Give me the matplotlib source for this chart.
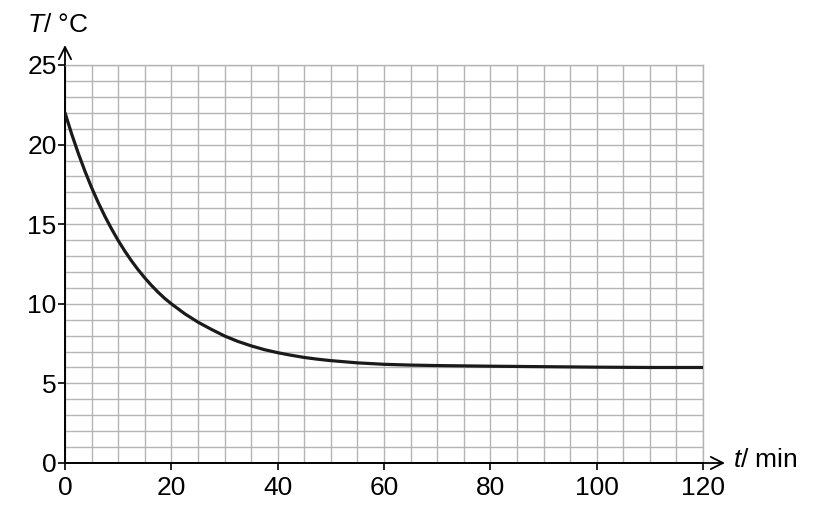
import numpy as np
import matplotlib.pyplot as plt

plt.rcParams["font.family"] = "Liberation Sans"
plt.rcParams["mathtext.fontset"] = "custom"
plt.rcParams["mathtext.it"] = "Liberation Sans:italic"
plt.rcParams["mathtext.rm"] = "Liberation Sans"

# readings
t_min = [0, 1.25, 2.5, 3.75, 5, 6.25, 7.5, 8.75, 10, 11.25, 12.5, 13.75, 15,
         16.25, 17.5, 18.75, 20, 22.5, 25, 27.5, 30, 32.5, 35, 37.5, 40, 42.5,
         45, 47.5, 50, 55, 60, 65, 70, 80, 90, 100, 110, 120]
temp_c = [22.0, 20.67, 19.45, 18.33, 17.3, 16.36, 15.5, 14.71, 13.98, 13.31,
          12.7, 12.14, 11.63, 11.16, 10.73, 10.34, 10.0, 9.38, 8.85, 8.4,
          7.98, 7.64, 7.36, 7.12, 6.93, 6.77, 6.63, 6.52, 6.43, 6.29, 6.2,
          6.15, 6.12, 6.08, 6.05, 6.02, 6.0, 6.0]
x_ticks = [0, 20, 40, 60, 80, 100, 120]
y_ticks = [0, 5, 10, 15, 20, 25]

fig = plt.figure(figsize=(8.19, 5.16), dpi=100)
ax = fig.add_axes([65 / 819, 53 / 516, 638 / 819, 398 / 516])

ax.plot(t_min, temp_c, color="#1a1a1a", lw=2.3, zorder=3,
        solid_joinstyle="round", solid_capstyle="round")

ax.set_xlim(0, 120)
ax.set_ylim(0, 25)
ax.set_xticks(x_ticks)
ax.set_yticks(y_ticks)
ax.set_xticks(np.arange(0, 121, 5), minor=True)
ax.set_yticks(np.arange(0, 26, 1), minor=True)
ax.grid(which="both", color="#b4b4b4", lw=1.0)
ax.tick_params(which="minor", length=0)
ax.tick_params(which="major", length=5, width=1.2, direction="out",
               labelsize=19, colors="black")
ax.tick_params(axis="x", pad=4.5)
ax.tick_params(axis="y", pad=1)
ax.set_axisbelow(True)

for s in ["top", "right"]:
    ax.spines[s].set_color("#b4b4b4")
    ax.spines[s].set_linewidth(1.0)
for s in ["left", "bottom"]:
    ax.spines[s].set_color("black")
    ax.spines[s].set_linewidth(1.4)

# axis arrows
arrow = dict(arrowstyle="->", lw=1.3, color="black", mutation_scale=22,
             shrinkA=0, shrinkB=0)
ax.annotate("", xy=(120 + 22 / 638 * 120, 0), xytext=(120, 0),
            arrowprops=arrow, annotation_clip=False)
ax.annotate("", xy=(0, 25 + 20 / 398 * 25), xytext=(0, 25),
            arrowprops=arrow, annotation_clip=False)

fig.text(27 / 819, 1 - 25 / 516, r"$T$/ °C", fontsize=19, ha="left", va="center")
fig.text(733 / 819, 1 - 460 / 516, r"$t$/ min", fontsize=19, ha="left", va="center")

plt.savefig("out.png", dpi=100)
